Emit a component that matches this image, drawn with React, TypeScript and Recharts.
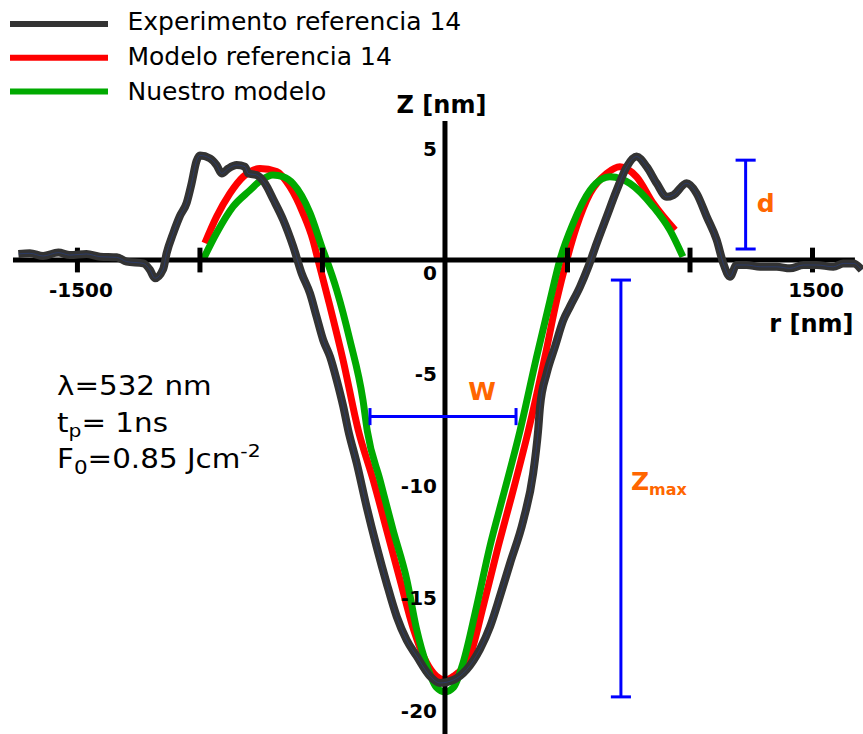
import React from "react";
import {
  LineChart,
  Line,
  XAxis,
  YAxis,
  ReferenceLine,
  ReferenceDot,
  Legend,
} from "recharts";

// crater profile: radius r [nm] vs depth z [nm]
const expR = [
  -1741, -1694, -1640, -1578, -1531, -1463, -1408, -1340, -1299, -1231, -1204,
  -1184, -1150, -1136, -1109, -1082, -1054, -1034, -1014, -1000, -959, -932,
  -911, -884, -850, -816, -803, -769, -735, -701, -660, -619, -585, -551, -524,
  -497, -469, -442, -415, -395, -360, -320, -279, -238, -197, -156, -116, -61,
  -20, 34, 89, 143, 184, 224, 265, 320, 360, 380, 388, 415, 449, 483, 510, 551,
  585, 619, 660, 701, 742, 782, 823, 864, 905, 932, 986, 1027, 1068, 1109,
  1136, 1163, 1190, 1231, 1286, 1354, 1408, 1463, 1517, 1585, 1626, 1667, 1701,
];
const expZ = [
  0.27, 0.3, 0.18, 0.33, 0.22, 0.27, 0.15, 0.12, -0.07, -0.15, -0.44, -0.81,
  -0.4, 0.3, 1.19, 1.95, 2.55, 3.41, 4.4, 4.65, 4.52, 4.22, 3.85, 4.07, 4.22,
  4.15, 3.85, 3.78, 3.41, 2.7, 1.78, 0.59, -0.59, -1.48, -2.52, -3.56, -4.3,
  -5.33, -6.52, -7.56, -9.04, -10.96, -12.74, -14.37, -15.85, -16.9, -17.6,
  -18.5, -18.8, -18.67, -18.2, -17.3, -16.3, -14.96, -13.5, -11.56, -9.48,
  -7.6, -6.52, -5.04, -3.85, -2.67, -2.07, -1.19, -0.3, 0.74, 1.93, 3.11, 4.15,
  4.6, 4.15, 3.41, 2.81, 2.89, 3.41, 2.96, 1.93, 0.89, -0.15, -0.74, -0.22,
  -0.22, -0.3, -0.3, -0.37, -0.22, -0.22, -0.3, -0.15, -0.15, -0.44,
];

const refR = [
  -980, -932, -878, -824, -755, -687, -633, -580, -539, -518, -469, -416, -354,
  -293, -238, -184, -129, -75, -35, 0, 35, 102, 156, 218, 272, 340, 408, 456,
  497, 537, 592, 660, 714, 782, 850, 939,
];
const refZ = [
  0.75, 1.93, 2.96, 3.7, 4.07, 3.93, 3.26, 2.1, 0.89, 0, -2.07, -4.44, -7.56,
  -9.78, -12.0, -14.2, -16.4, -17.9, -18.5, -18.67, -18.5, -17.6, -15.4, -12.7,
  -10.5, -7.6, -4.3, -1.78, 0, 1.48, 2.96, 3.85, 4.15, 3.7, 2.52, 1.33,
];

const ourR = [
  -988, -932, -865, -796, -750, -702, -660, -620, -551, -498, -483, -442, -388,
  -335, -317, -265, -212, -156, -116, -75, -35, 0, 35, 74, 129, 184, 237, 306,
  374, 429, 469, 523, 592, 640, 673, 720, 755, 850, 918, 971,
];
const ourZ = [
  0, 1.2, 2.37, 3.1, 3.55, 3.78, 3.7, 3.4, 2.1, 0.44, 0, -1.33, -3.56, -6.2,
  -7.6, -9.78, -12.0, -14.2, -16.4, -18.0, -19.0, -19.2, -19.0, -17.9, -15.4,
  -12.7, -10.5, -7.6, -4.3, -1.78, 0, 1.63, 3.1, 3.6, 3.7, 3.6, 3.4, 2.37, 1.33,
  0.15,
];

const seriesNames = [
  "Experimento referencia 14",
  "Modelo referencia 14",
  "Nuestro modelo",
];

const xTicks = [-1500, -1000, -500, 500, 1000, 1500];
const xTickLabels = ["-1500", "", "", "", "", "1500"];
const yTicks = [5, 0, -5, -10, -15, -20];
const yTickLabels = ["5", "0", "-5", "-10", "-15", "-20"];

// measured quantities marked on the profile
const wBar = { z: -6.96, from: -306, to: 290 };
const dBar = { r: 1227, from: 0.49, to: 4.44 };
const zmaxBar = { r: 718, from: -0.89, to: -19.42 };

const xDomain = [-1816, 1706];
const yDomain = [-21.07, 11.56];
const xAxisSpan = [-1763, 1673];
const yAxisTop = 6.18;

const toPoints = (r: number[], z: number[]) =>
  r.map((v, i) => ({ r: v, z: z[i] }));

const expData = toPoints(expR, expZ);
const refData = toPoints(refR, refZ);
const ourData = toPoints(ourR, ourZ);

const FONT = "DejaVu Sans";
const BLUE = "#0000ff";
const ORANGE = "#ff6600";
const TICK_HALF = 0.55;
const CAP_R = 41;
const CAP_Z = 0.38;

function Caption({
  viewBox,
  txt,
  dx = 0,
  dy = 0,
  anchor = "middle",
  size = 20,
  weight = "bold",
  color = "#000",
}: any) {
  if (!viewBox) return null;
  return (
    <text
      x={viewBox.x + dx}
      y={viewBox.y + dy}
      textAnchor={anchor}
      fontFamily={FONT}
      fontSize={size}
      fontWeight={weight}
      fill={color}
    >
      {txt}
    </text>
  );
}

function ZmaxCaption({ viewBox }: any) {
  if (!viewBox) return null;
  return (
    <text
      x={viewBox.x + 10}
      y={viewBox.y + 1.5}
      fontFamily={FONT}
      fontSize={25}
      fontWeight="bold"
      fill={ORANGE}
    >
      Z
      <tspan fontSize={16} dy={5}>
        max
      </tspan>
    </text>
  );
}

function LegendBox({ payload }: any) {
  const items = [...(payload || [])]
    .filter((p: any) => seriesNames.includes(p.value))
    .sort(
      (a: any, b: any) =>
        seriesNames.indexOf(a.value) - seriesNames.indexOf(b.value)
    );
  return (
    <svg width={480} height={112} style={{ display: "block" }}>
      {items.map((item: any, i: number) => (
        <g key={item.value}>
          <line
            x1={10}
            x2={108}
            y1={24 + i * 33.7}
            y2={24 + i * 33.7}
            stroke={item.color}
            strokeWidth={6}
          />
          <text
            x={127.5}
            y={30 + i * 35}
            fontFamily={FONT}
            fontSize={25}
            fill="#000"
          >
            {item.value}
          </text>
        </g>
      ))}
    </svg>
  );
}

export default function App() {
  return (
    <div
      style={{
        position: "absolute",
        left: 0,
        top: 0,
        width: 863,
        height: 734,
        background: "#fff",
      }}
    >
      <LineChart
        width={863}
        height={734}
        margin={{ top: 0, right: 0, bottom: 0, left: 0 }}
      >
        <XAxis
          type="number"
          dataKey="r"
          domain={xDomain}
          allowDataOverflow
          hide
        />
        <YAxis type="number" domain={yDomain} allowDataOverflow hide />

        <Line
          data={refData}
          dataKey="z"
          name={seriesNames[1]}
          type="monotone"
          stroke="#ff0000"
          strokeWidth={7}
          dot={false}
          activeDot={false}
          isAnimationActive={false}
          zIndex={400}
        />
        <Line
          data={ourData}
          dataKey="z"
          name={seriesNames[2]}
          type="monotone"
          stroke="#00aa00"
          strokeWidth={7}
          dot={false}
          activeDot={false}
          isAnimationActive={false}
          zIndex={410}
        />

        {/* crossed axes through the origin */}
        <ReferenceLine
          segment={[
            { x: xAxisSpan[0], y: 0 },
            { x: xAxisSpan[1], y: 0 },
          ]}
          stroke="#000"
          strokeWidth={5}
          zIndex={450}
        />
        <ReferenceLine
          segment={[
            { x: 0, y: yDomain[0] },
            { x: 0, y: yAxisTop },
          ]}
          stroke="#000"
          strokeWidth={5}
          zIndex={450}
        />
        {xTicks.map((t) => (
          <ReferenceLine
            key={`tick${t}`}
            segment={[
              { x: t, y: -TICK_HALF },
              { x: t, y: TICK_HALF },
            ]}
            stroke="#000"
            strokeWidth={5}
            zIndex={450}
          />
        ))}

        <Line
          data={expData}
          dataKey="z"
          name={seriesNames[0]}
          type="monotone"
          stroke="#333333"
          strokeWidth={8}
          strokeLinejoin="round"
          dot={false}
          activeDot={false}
          isAnimationActive={false}
          zIndex={500}
        />
        <Line
          data={expData}
          dataKey="z"
          name="exp-core"
          legendType="none"
          type="monotone"
          stroke="#24408e"
          strokeOpacity={0.55}
          strokeWidth={1}
          dot={false}
          activeDot={false}
          isAnimationActive={false}
          zIndex={510}
        />

        {/* W, d and Zmax markers */}
        <ReferenceLine
          segment={[
            { x: wBar.from, y: wBar.z },
            { x: wBar.to, y: wBar.z },
          ]}
          stroke={BLUE}
          strokeWidth={3}
          zIndex={600}
        />
        {[wBar.from, wBar.to].map((r) => (
          <ReferenceLine
            key={`wcap${r}`}
            segment={[
              { x: r, y: wBar.z - CAP_Z },
              { x: r, y: wBar.z + CAP_Z },
            ]}
            stroke={BLUE}
            strokeWidth={3}
            zIndex={600}
          />
        ))}
        {[dBar, zmaxBar].map((bar, k) => (
          <React.Fragment key={`bar${k}`}>
            <ReferenceLine
              segment={[
                { x: bar.r, y: bar.from },
                { x: bar.r, y: bar.to },
              ]}
              stroke={BLUE}
              strokeWidth={3}
              zIndex={600}
            />
            {[bar.from, bar.to].map((z) => (
              <ReferenceLine
                key={`cap${k}${z}`}
                segment={[
                  { x: bar.r - CAP_R, y: z },
                  { x: bar.r + CAP_R, y: z },
                ]}
                stroke={BLUE}
                strokeWidth={3}
                zIndex={600}
              />
            ))}
          </React.Fragment>
        ))}

        {/* tick labels and axis titles */}
        {xTicks.map((t, i) =>
          xTickLabels[i] ? (
            <ReferenceDot
              key={`xl${t}`}
              x={t}
              y={0}
              r={0}
              fill="none"
              stroke="none"
              zIndex={2000}
              label={<Caption txt={xTickLabels[i]} dx={3.5} dy={37} />}
            />
          ) : null
        )}
        {yTicks.map((t, i) => (
          <ReferenceDot
            key={`yl${t}`}
            x={0}
            y={t}
            r={0}
            fill="none"
            stroke="none"
            zIndex={2000}
            label={
              <Caption
                txt={yTickLabels[i]}
                dx={-8}
                dy={t === 0 ? 20 : 8}
                anchor="end"
              />
            }
          />
        ))}
        <ReferenceDot
          x={0}
          y={yAxisTop}
          r={0}
          fill="none"
          stroke="none"
          zIndex={2000}
          label={<Caption txt="Z [nm]" dx={-3.5} dy={-8} size={24} />}
        />
        <ReferenceDot
          x={xAxisSpan[1]}
          y={0}
          r={0}
          fill="none"
          stroke="none"
          zIndex={2000}
          label={<Caption txt="r [nm]" dx={-43.5} dy={72} size={24} />}
        />
        <ReferenceDot
          x={wBar.to}
          y={wBar.z}
          r={0}
          fill="none"
          stroke="none"
          zIndex={2000}
          label={
            <Caption txt="W" dx={-34} dy={-17} size={25} color={ORANGE} />
          }
        />
        <ReferenceDot
          x={dBar.r}
          y={(dBar.from + dBar.to) / 2}
          r={0}
          fill="none"
          stroke="none"
          zIndex={2000}
          label={
            <Caption
              txt="d"
              dx={11}
              dy={7}
              anchor="start"
              size={25}
              color={ORANGE}
            />
          }
        />
        <ReferenceDot
          x={zmaxBar.r}
          y={(zmaxBar.from + zmaxBar.to) / 2}
          r={0}
          fill="none"
          stroke="none"
          zIndex={2000}
          label={<ZmaxCaption />}
        />

        <Legend
          content={<LegendBox />}
          layout="horizontal"
          verticalAlign="middle"
          align="center"
          wrapperStyle={{ top: 0, left: 0, width: 480, height: 112 }}
        />
      </LineChart>

      {/* laser parameters */}
      <svg
        width={863}
        height={734}
        style={{ position: "absolute", left: 0, top: 0, pointerEvents: "none" }}
      >
        <g
          transform="translate(57 0) scale(1.13 1)"
          fontFamily={FONT}
          fontSize={26}
          fill="#000"
        >
          <text x={0} y={395}>
            λ=532 nm
          </text>
          <text x={0} y={431.7}>
            t
            <tspan fontSize={18} dy={5}>
              p
            </tspan>
            <tspan dy={-5}>= 1ns</tspan>
          </text>
          <text x={0} y={468.3}>
            F
            <tspan fontSize={19} dy={6}>
              0
            </tspan>
            <tspan dy={-6}>=0.85 Jcm</tspan>
            <tspan fontSize={18} dy={-11.6}>
              -2
            </tspan>
          </text>
        </g>
      </svg>
    </div>
  );
}
